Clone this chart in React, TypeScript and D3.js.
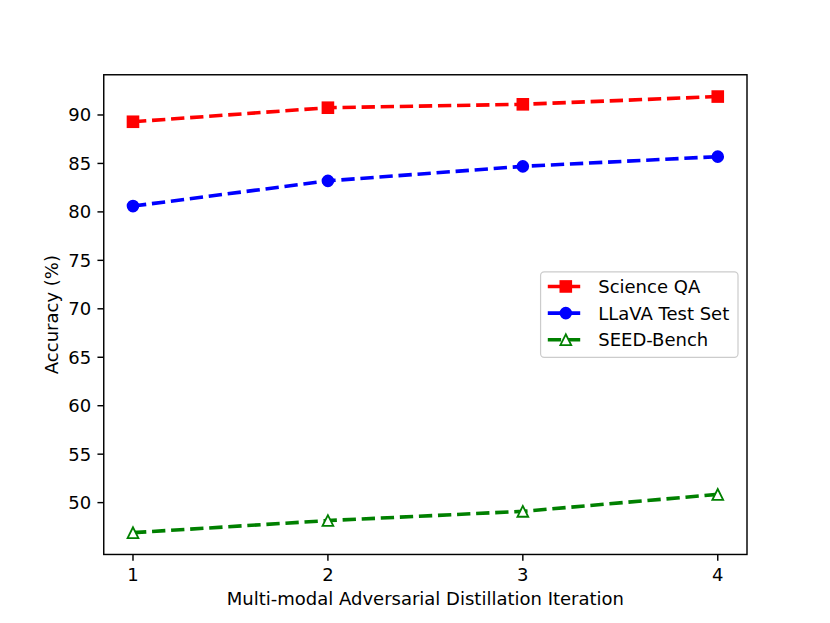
import React, { useEffect } from "react";
import * as d3 from "d3";

const iterations = [1, 2, 3, 4];
const scienceQA = [89.3, 90.75, 91.1, 91.9];
const llava = [80.6, 83.2, 84.7, 85.7];
const seedBench = [46.9, 48.15, 49.1, 50.85];
const yTicks = [50, 55, 60, 65, 70, 75, 80, 85, 90];

const seriesList = [
  { name: "Science QA", values: scienceQA, color: "#ff0000", marker: "square" },
  { name: "LLaVA Test Set", values: llava, color: "#0000ff", marker: "circle" },
  { name: "SEED-Bench", values: seedBench, color: "#008000", marker: "triangle" },
];

const W = 830;
const H = 623;
const PT = W / 640 * 100 / 72; // px per pt
const FS = 10 * PT;
const FONT = "DejaVu Sans, sans-serif";

function Marker({ kind, x, y, color }: { kind: string; x: number; y: number; color: string }) {
  const s = 6 * PT;
  const ew = 1 * PT;
  if (kind === "square") {
    return <rect x={x - s / 2} y={y - s / 2} width={s} height={s} fill={color} stroke={color} strokeWidth={ew} />;
  }
  if (kind === "circle") {
    return <circle cx={x} cy={y} r={s / 2} fill={color} stroke={color} strokeWidth={ew} />;
  }
  const h = s / 2;
  const pts = `${x},${y - h} ${x - h},${y + h} ${x + h},${y + h}`;
  return <polygon points={pts} fill="#ffffff" stroke={color} strokeWidth={ew} strokeLinejoin="miter" />;
}

export default function App() {
  useEffect(() => {
    document.body.style.margin = "0";
  }, []);

  const left = 0.125 * W;
  const right = 0.9 * W;
  const top = (1 - 0.88) * H;
  const bottom = (1 - 0.11) * H;

  const allVals = [...scienceQA, ...llava, ...seedBench];
  const yMin = d3.min(allVals) as number;
  const yMax = d3.max(allVals) as number;
  const yPad = (yMax - yMin) * 0.05;
  const xPad = (3) * 0.05;

  const x = d3.scaleLinear().domain([1 - xPad, 4 + xPad]).range([left, right]);
  const y = d3.scaleLinear().domain([yMin - yPad, yMax + yPad]).range([bottom, top]);

  const lw = 2 * PT;
  const dash = `${3.7 * lw} ${1.6 * lw}`;
  const tickLen = 3.5 * PT;
  const pad = 3.5 * PT;
  const spineW = 0.8 * PT;

  const line = d3
    .line<number>()
    .x((_, i) => x(iterations[i]))
    .y((d) => y(d));

  // legend layout
  const rowH = FS * 0.98;
  const labelSp = 0.5 * FS;
  const borderPad = 0.4 * FS;
  const handleLen = 2 * FS;
  const handlePad = 0.8 * FS;
  const textW = 7.36 * FS;
  const legW = borderPad * 2 + handleLen + handlePad + textW;
  const legH = borderPad * 2 + rowH * 3 + labelSp * 2;
  const legRight = right - 0.5 * FS;
  const legLeft = legRight - legW;
  const legTop = (top + bottom) / 2 - legH / 2;

  return (
    <svg width={W} height={H} style={{ display: "block", background: "#fff" }} fontFamily={FONT}>
      <rect x={0} y={0} width={W} height={H} fill="#fff" />
      <defs>
        <clipPath id="plotclip">
          <rect x={left} y={top} width={right - left} height={bottom - top} />
        </clipPath>
      </defs>

      {/* lines */}
      <g clipPath="url(#plotclip)">
        {seriesList.map((s) => (
          <path key={s.name} d={line(s.values) || ""} fill="none" stroke={s.color} strokeWidth={lw} strokeDasharray={dash} />
        ))}
      </g>
      {seriesList.map((s) => (
        <g key={s.name + "m"}>
          {s.values.map((v, i) => (
            <Marker key={i} kind={s.marker} x={x(iterations[i])} y={y(v)} color={s.color} />
          ))}
        </g>
      ))}

      {/* spines */}
      <rect x={left} y={top} width={right - left} height={bottom - top} fill="none" stroke="#000" strokeWidth={spineW} />

      {/* x ticks */}
      {iterations.map((t) => (
        <g key={"xt" + t}>
          <line x1={x(t)} x2={x(t)} y1={bottom} y2={bottom + tickLen} stroke="#000" strokeWidth={spineW} />
          <text x={x(t)} y={bottom + tickLen + pad + FS * 0.76} textAnchor="middle" fontSize={FS} fill="#000">
            {t}
          </text>
        </g>
      ))}

      {/* y ticks */}
      {yTicks.map((t) => (
        <g key={"yt" + t}>
          <line x1={left - tickLen} x2={left} y1={y(t)} y2={y(t)} stroke="#000" strokeWidth={spineW} />
          <text x={left - tickLen - pad} y={y(t) + FS * 0.36} textAnchor="end" fontSize={FS} fill="#000">
            {t}
          </text>
        </g>
      ))}

      {/* axis labels */}
      <text x={(left + right) / 2} y={605} textAnchor="middle" fontSize={FS} fill="#000">
        Multi-modal Adversarial Distillation Iteration
      </text>
      <text
        transform={`translate(${58},${(top + bottom) / 2}) rotate(-90)`}
        textAnchor="middle"
        fontSize={FS}
        fill="#000"
      >
        Accuracy (%)
      </text>

      {/* legend */}
      <rect
        x={legLeft}
        y={legTop}
        width={legW}
        height={legH}
        rx={0.2 * FS}
        ry={0.2 * FS}
        fill="#fff"
        fillOpacity={0.8}
        stroke="#cccccc"
        strokeWidth={1.2}
      />
      {seriesList.map((s, i) => {
        const cy = legTop + borderPad + rowH / 2 + i * (rowH + labelSp) - 1.5;
        const hx0 = legLeft + borderPad;
        const hx1 = hx0 + handleLen;
        return (
          <g key={"leg" + s.name}>
            <line x1={hx0} x2={hx1} y1={cy} y2={cy} stroke={s.color} strokeWidth={lw} strokeDasharray={dash} />
            <Marker kind={s.marker} x={(hx0 + hx1) / 2} y={cy} color={s.color} />
            <text x={hx1 + handlePad} y={cy + FS * 0.36} fontSize={FS} fill="#000">
              {s.name}
            </text>
          </g>
        );
      })}
    </svg>
  );
}
